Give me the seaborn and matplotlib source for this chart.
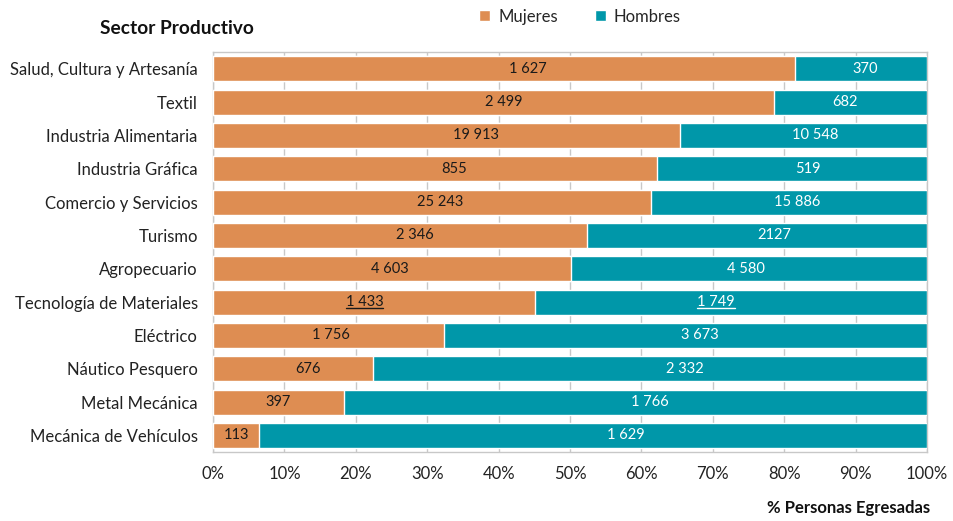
import pandas as pd
import matplotlib.pyplot as plt
import seaborn as sns
from matplotlib.lines import Line2D

sectores = ["Salud, Cultura y Artesanía", "Textil", "Industria Alimentaria",
            "Industria Gráfica", "Comercio y Servicios", "Turismo", "Agropecuario",
            "Tecnología de Materiales", "Eléctrico", "Náutico Pesquero",
            "Metal Mecánica", "Mecánica de Vehículos"]
mujeres = [1627, 2499, 19913, 855, 25243, 2346, 4603, 1433, 1756, 676, 397, 113]
hombres = [370, 682, 10548, 519, 15886, 2127, 4580, 1749, 3673, 2332, 1766, 1629]
xticks = [0, 10, 20, 30, 40, 50, 60, 70, 80, 90, 100]

# desplazamiento manual de las etiquetas respecto al centro del tramo (en puntos %)
ajuste_m = [3.4, 1.4, 4.1, 2.7, 1.1, 2.0, -0.3, -1.3, 0.3, 2.1, 0.0, 0.0]
ajuste_h = [0.6, -0.7, 1.7, 2.2, 1.1, 2.4, -0.4, -2.1, 2.0, 4.8, 2.0, 4.6]

naranja = "#DE8D52"
turquesa = "#0097A9"

df = pd.DataFrame({"sector": sectores, "mujeres": mujeres, "hombres": hombres})
df["total"] = df["mujeres"] + df["hombres"]
df["pct_m"] = df["mujeres"] / df["total"] * 100
df["pct_all"] = 100.0

sns.set_style("white")
plt.rcParams["font.family"] = ["Lato", "DejaVu Sans"]

fig, ax = plt.subplots(figsize=(9.54, 5.21), dpi=100)
fig.subplots_adjust(left=0.2233, right=0.9717, top=0.900, bottom=0.1324)

sns.barplot(data=df, x="pct_all", y="sector", color=turquesa, width=0.75,
            saturation=1, ax=ax, label="Hombres", zorder=3)
sns.barplot(data=df, x="pct_m", y="sector", color=naranja, width=0.75,
            saturation=1, ax=ax, label="Mujeres", zorder=3)


def fmt(v):
    return f"{v:,}".replace(",", " ")


subrayar = []
for i, row in df.iterrows():
    th = "2127" if row["sector"] == "Turismo" else fmt(row["hombres"])
    t1 = ax.text(row["pct_m"] / 2 + ajuste_m[i], i, fmt(row["mujeres"]),
                 ha="center", va="center", fontsize=10.5, color="#1a1a1a", zorder=4)
    t2 = ax.text((row["pct_m"] + 100) / 2 + ajuste_h[i], i, th,
                 ha="center", va="center", fontsize=10.5, color="white", zorder=4)
    if row["sector"] == "Tecnología de Materiales":
        subrayar += [t1, t2]

ax.set_xlim(0, 100)
ax.set_ylim(11.5, -0.5)
ax.set_xticks(xticks)
ax.set_xticklabels([f"{t}%" for t in xticks], fontsize=12, color="#222222")
ax.tick_params(axis="y", labelsize=12, labelcolor="#222222", length=0, pad=11)
ax.tick_params(axis="x", length=0, pad=10)
ax.grid(axis="x", color="#C8C8C8", linewidth=1, zorder=0)
for s in ax.spines.values():
    s.set_color("#C8C8C8")
    s.set_linewidth(1)
ax.set_xlabel("")
ax.set_ylabel("")

fig.text(0.105, 0.945, "Sector Productivo", fontsize=13.8, fontweight="bold",
         ha="left", va="center", color="#111111")
fig.text(0.975, 0.025, "% Personas Egresadas", fontsize=12, fontweight="bold",
         ha="right", va="center", color="#111111")

handles, labels = ax.get_legend_handles_labels()
order = [labels.index("Mujeres"), labels.index("Hombres")]
ax.legend([handles[k] for k in order], [labels[k] for k in order],
          loc="center", bbox_to_anchor=(0.608, 0.968), bbox_transform=fig.transFigure,
          ncol=2, frameon=False, fontsize=12, handlelength=0.65, handleheight=0.65,
          columnspacing=2.2, handletextpad=0.5)

# subrayado de las etiquetas de Tecnología de Materiales
fig.canvas.draw()
inv = fig.transFigure.inverted()
for t in subrayar:
    bb = t.get_window_extent().transformed(inv)
    fig.add_artist(Line2D([bb.x0, bb.x1], [bb.y0 + 0.002, bb.y0 + 0.002],
                          transform=fig.transFigure, color=t.get_color(),
                          linewidth=1, zorder=5))

plt.savefig("out.png", dpi=100)
